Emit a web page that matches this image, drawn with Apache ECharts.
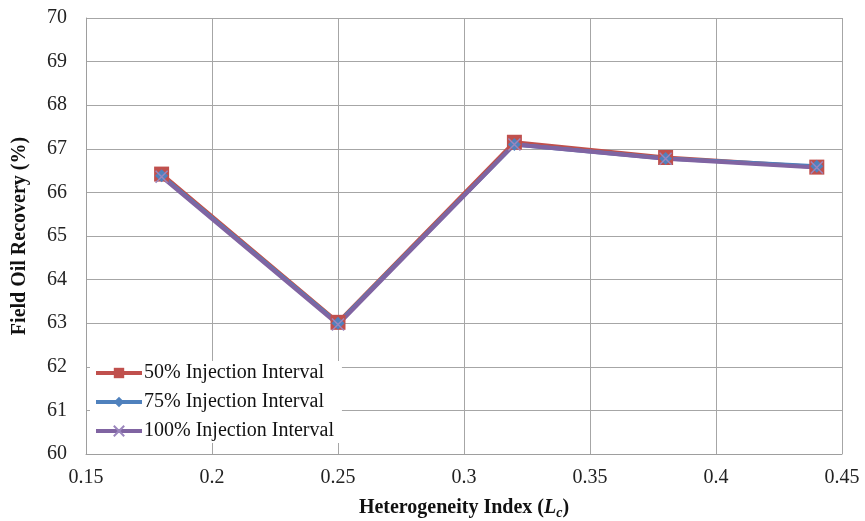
<!DOCTYPE html>
<html><head><meta charset="utf-8">
<script src="https://cdn.jsdelivr.net/npm/echarts@6/dist/echarts.min.js"></script>
<style>html,body{margin:0;padding:0;background:#fff}#c{width:865px;height:521px}</style>
</head><body><div id="c"></div>
<script>
const xValues = [0.18, 0.25, 0.32, 0.38, 0.44];
const s50 = [66.42, 63.02, 67.15, 66.8, 66.58];
const s75 = [66.38, 63.0, 67.1, 66.78, 66.6];
const s100 = [66.36, 62.97, 67.1, 66.77, 66.57];
const seriesNames = ['50% Injection Interval', '75% Injection Interval', '100% Injection Interval'];

const font = 'Liberation Serif';
const chart = echarts.init(document.getElementById('c'));
function mk(name, vals, color, symbol, size, extra) {
  return {
    name: name, type: 'line', data: xValues.map((x, i) => [x, vals[i]]),
    symbol: symbol, symbolSize: size,
    lineStyle: { color: color, width: 4 },
    itemStyle: Object.assign({ color: color }, extra || {}),
    z: 3
  };
}
chart.setOption({
  animation: false,
  textStyle: { fontFamily: font },
  grid: { left: 86, right: 23, top: 18, bottom: 67, outerBoundsMode: 'none', containLabel: false },
  xAxis: {
    type: 'value', min: 0.15, max: 0.45, interval: 0.05,
    axisLine: { show: true, lineStyle: { color: '#9e9e9e' } },
    axisTick: { show: false },
    splitLine: { show: true, lineStyle: { color: '#a6a6a6', width: 1 } },
    axisLabel: { color: '#222', fontSize: 20, fontFamily: font, margin: 14,
      formatter: v => String(+v.toFixed(2)) },
    name: '{b|Heterogeneity Index (}{i|L}{s|c}{b|)}',
    nameLocation: 'middle', nameGap: 42,
    nameTextStyle: { rich: {
      b: { fontFamily: font, fontWeight: 'bold', fontSize: 20, color: '#111' },
      i: { fontFamily: font, fontWeight: 'bold', fontStyle: 'italic', fontSize: 20, color: '#111' },
      s: { fontFamily: font, fontWeight: 'bold', fontStyle: 'italic', fontSize: 14, color: '#111', verticalAlign: 'bottom', padding: [10, 0, 0, 0] }
    } }
  },
  yAxis: {
    type: 'value', min: 60, max: 70, interval: 1,
    axisLine: { show: true, lineStyle: { color: '#9e9e9e' } },
    axisTick: { show: false },
    splitLine: { show: true, lineStyle: { color: '#a6a6a6', width: 1 } },
    axisLabel: { color: '#222', fontSize: 20, fontFamily: font, margin: 19 },
    name: 'Field Oil Recovery (%)', nameLocation: 'middle', nameGap: 56,
    nameTextStyle: { fontFamily: font, fontWeight: 'bold', fontSize: 20, color: '#111' }
  },
  legend: {
    orient: 'vertical', left: 90, top: 361,
    backgroundColor: '#fff', padding: [2, 8, 2, 4],
    itemWidth: 46, itemHeight: 13, itemGap: 9,
    lineStyle: { width: 4 },
    textStyle: { fontFamily: font, fontSize: 20, color: '#111', padding: [0, 0, 0, -3] },
    data: seriesNames
  },
  series: [
    mk(seriesNames[0], s50, '#c0504d', 'rect', 15),
    mk(seriesNames[1], s75, '#4f81bd', 'diamond', 13),
    mk(seriesNames[2], s100, '#8064a2', 'path://M0,0L10,10M10,0L0,10', 12,
       { borderColor: '#9b86bd', borderWidth: 1.5 })
  ]
});
</script></body></html>
